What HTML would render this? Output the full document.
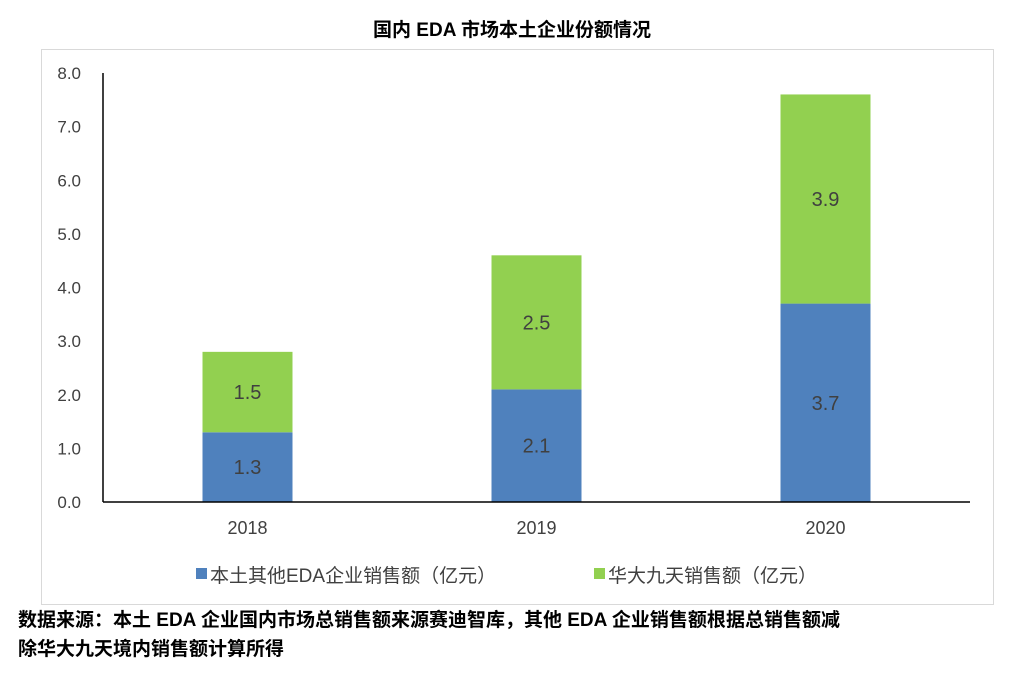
<!DOCTYPE html>
<html><head><meta charset="utf-8"><style>
body{margin:0;width:1024px;height:676px;background:#fff;overflow:hidden;font-family:"Liberation Sans","Noto Sans CJK SC",sans-serif;}
.t{position:absolute;}
</style></head><body>
<div class="t" style="left:0;width:1024px;top:15px;text-align:center;font-weight:bold;font-size:19px;color:#000;">国内 EDA 市场本土企业份额情况</div>
<div style="position:absolute;left:41px;top:49px;width:953px;height:556px;border:1px solid #d9d9d9;box-sizing:border-box;"></div>
<svg id="c" width="1024" height="676" style="position:absolute;left:0;top:0;"></svg>
<div class="t" style="left:18px;top:606px;width:1010px;white-space:nowrap;font-weight:bold;font-size:19px;line-height:29px;color:#000;">数据来源：本土 EDA 企业国内市场总销售额来源赛迪智库，其他 EDA 企业销售额根据总销售额减<br>除华大九天境内销售额计算所得</div>
<script>
const categories=["2018","2019","2020"];
const otherLocal=[1.3,2.1,3.7];
const huada=[1.5,2.5,3.9];
const yTicks=[0,1,2,3,4,5,6,7,8];
const seriesNames=["本土其他EDA企业销售额（亿元）","华大九天销售额（亿元）"];
const colors=["#4f81bd","#92d050"];
const svg=document.getElementById('c');
const NS="http://www.w3.org/2000/svg";
const x0=103,x1=970,y0=502,yTop=73,yMax=8;
const y=v=>y0-(v/yMax)*(y0-yTop);
const band=(x1-x0)/categories.length;
const xc=i=>x0+band*(i+0.5);
const bw=90;
function mk(tag,attrs,txt){const e=document.createElementNS(NS,tag);for(const k in attrs)e.setAttribute(k,attrs[k]);if(txt!==undefined)e.textContent=txt;svg.appendChild(e);return e;}
yTicks.forEach(t=>{
 const e=mk('text',{x:81,y:y(t)+6,'text-anchor':'end','font-size':17,fill:'#404040'},t.toFixed(1));
 
 
});
categories.forEach((c,i)=>{
 const e=mk('text',{x:xc(i),y:534,'text-anchor':'middle','font-size':18,fill:'#404040'},c);
 
 
 const a=otherLocal[i],b=huada[i];
 const r1=mk('rect',{x:xc(i)-bw/2,y:y(a),width:bw,height:y0-y(a),fill:colors[0]});
 
 
 const r2=mk('rect',{x:xc(i)-bw/2,y:y(a+b),width:bw,height:y(a)-y(a+b),fill:colors[1]});
 
 
 const l1=mk('text',{x:xc(i),y:(y0+y(a))/2+7,'text-anchor':'middle','font-size':20,fill:'#404040'},a.toFixed(1));
 
 
 const l2=mk('text',{x:xc(i),y:(y(a)+y(a+b))/2+7,'text-anchor':'middle','font-size':20,fill:'#404040'},b.toFixed(1));
 
 
});
const ya=mk('line',{x1:x0,y1:yTop,x2:x0,y2:y0,stroke:'#000','stroke-width':1.5});


const xa=mk('line',{x1:x0,y1:y0,x2:x1,y2:y0,stroke:'#000','stroke-width':1.5});


const lx=[196,594];
seriesNames.forEach((n,i)=>{
 const s=mk('rect',{x:lx[i],y:568,width:11,height:11,fill:colors[i]});
 
 
 const t=mk('text',{x:lx[i]+14,y:582,'font-size':19,fill:'#404040'},n);
 
 
});
</script>
</body></html>
